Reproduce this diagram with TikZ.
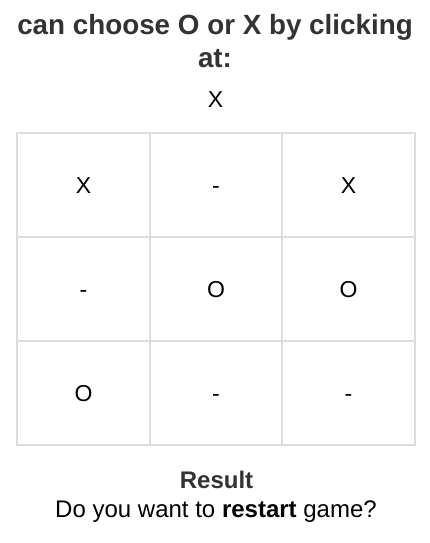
\documentclass[tikz,border=0pt]{standalone}
\usepackage{fontspec}
\setmainfont{Liberation Sans}
\definecolor{titlegray}{RGB}{51,51,51}
\definecolor{gridgray}{RGB}{221,221,221}
\begin{document}
\begin{tikzpicture}[x=1pt,y=-1pt,
  txt/.style={inner sep=0pt,anchor=base},
  title/.style={txt,text=titlegray,font=\fontsize{27.8}{32}\selectfont\bfseries},
  cell/.style={txt,text=black,font=\fontsize{23}{26}\selectfont},
  gridline/.style={draw=gridgray,line width=2pt}]
\useasboundingbox[fill=white] (0,0) rectangle (430,543);
\node[title] (t1) at (215,35) {can choose O or X by clicking};
\node[title] (t2) at (215,67) {at:};
\node[cell] (cur) at (215.5,107) {X};
% grid
\draw[gridline] (17,133) rectangle (415,445);
\draw[gridline] (150,133) -- (150,445);
\draw[gridline] (282,133) -- (282,445);
\draw[gridline] (17,237) -- (415,237);
\draw[gridline] (17,341) -- (415,341);
\node[cell] (c11) at (83.5,193) {X};
\node[cell] (c12) at (216,193) {-};
\node[cell] (c13) at (348.5,193) {X};
\node[cell] (c21) at (83.5,297) {-};
\node[cell] (c22) at (216,297) {O};
\node[cell] (c23) at (348.5,297) {O};
\node[cell] (c31) at (83.5,401) {O};
\node[cell] (c32) at (216,401) {-};
\node[cell] (c33) at (348.5,401) {-};
\node[txt,text=titlegray,font=\fontsize{24}{28}\selectfont\bfseries] (res) at (216.5,488) {Result};
\node[txt,text=black,font=\fontsize{24}{28}\selectfont] (ask) at (216,517) {Do you want to \textbf{restart} game?};
\end{tikzpicture}
\end{document}
